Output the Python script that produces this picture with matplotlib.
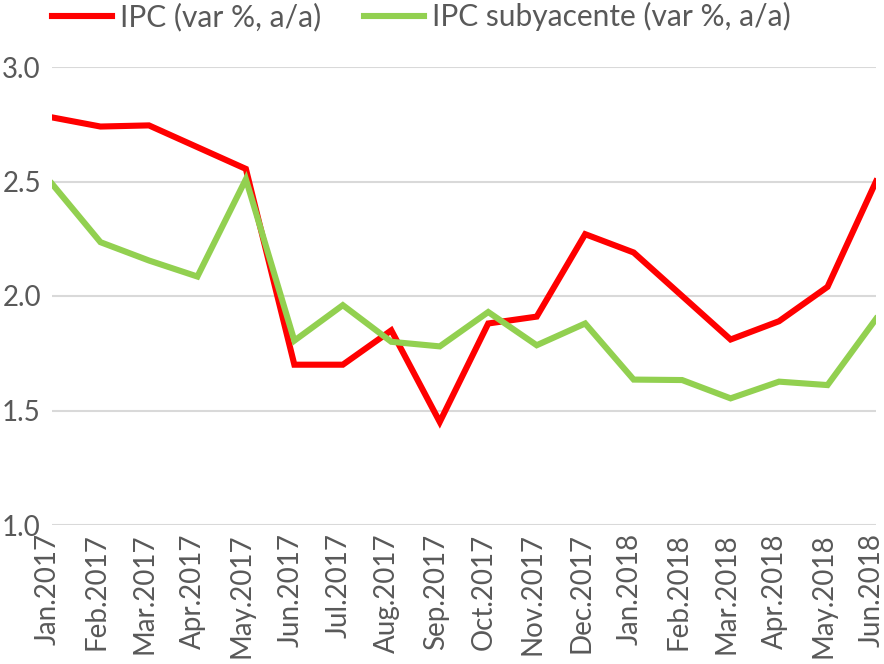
import matplotlib.pyplot as plt
import matplotlib.transforms as mtransforms
import numpy as np

months = ["Jan.2017", "Feb.2017", "Mar.2017", "Apr.2017", "May.2017", "Jun.2017",
          "Jul.2017", "Aug.2017", "Sep.2017", "Oct.2017", "Nov.2017", "Dec.2017",
          "Jan.2018", "Feb.2018", "Mar.2018", "Apr.2018", "May.2018", "Jun.2018"]
ipc = [2.78, 2.74, 2.745, 2.65, 2.555, 1.70, 1.70, 1.85, 1.45, 1.88, 1.91, 2.27,
       2.19, 2.00, 1.81, 1.89, 2.04, 2.50]
ipc_sub = [2.49, 2.235, 2.155, 2.085, 2.51, 1.805, 1.96, 1.80, 1.78, 1.93, 1.785, 1.88,
           1.635, 1.633, 1.553, 1.626, 1.611, 1.90]
yticks = [1.0, 1.5, 2.0, 2.5, 3.0]

plt.rcParams['font.family'] = ['Lato', 'DejaVu Sans']

fig = plt.figure(figsize=(8.84, 6.64), dpi=100)
ax = fig.add_axes([52 / 884, 1 - 525 / 664, 824 / 884, 458 / 664])

x = np.arange(len(months))
ax.plot(x, ipc, color="#FF0000", lw=4.4, label="IPC (var %, a/a)",
        solid_joinstyle="miter", zorder=3)
ax.plot(x, ipc_sub, color="#92D050", lw=4.4, label="IPC subyacente (var %, a/a)",
        solid_joinstyle="miter", zorder=3)

ax.set_xlim(0, len(months) - 1)
ax.set_ylim(1.0, 3.0)
ax.set_yticks(yticks)
ax.set_yticklabels([f"{v:.1f}" for v in yticks])
ax.set_xticks(x)
ax.set_xticklabels(months, rotation=90, va="top")
ax.tick_params(axis="both", length=0, labelsize=20, labelcolor="#595959")
ax.tick_params(axis="y", pad=8)
ax.tick_params(axis="x", pad=6)
# excel puts the rotated labels a few px left of the category
shift = mtransforms.ScaledTranslation(-4 / 100, 0, fig.dpi_scale_trans)
for lbl in ax.get_xticklabels():
    lbl.set_transform(lbl.get_transform() + shift)
ax.yaxis.grid(True, color="#D9D9D9", lw=1.5)
ax.set_axisbelow(True)
for s in ax.spines.values():
    s.set_visible(False)

fig.legend(loc="upper left", bbox_to_anchor=(52 / 884, 1 - 2 / 664), ncol=2, frameon=False,
           fontsize=21.5, labelcolor="#595959", handlelength=2.0, handletextpad=0.27,
           columnspacing=1.44, borderaxespad=0.0, borderpad=0.0)

fig.savefig("out.png", dpi=100)
